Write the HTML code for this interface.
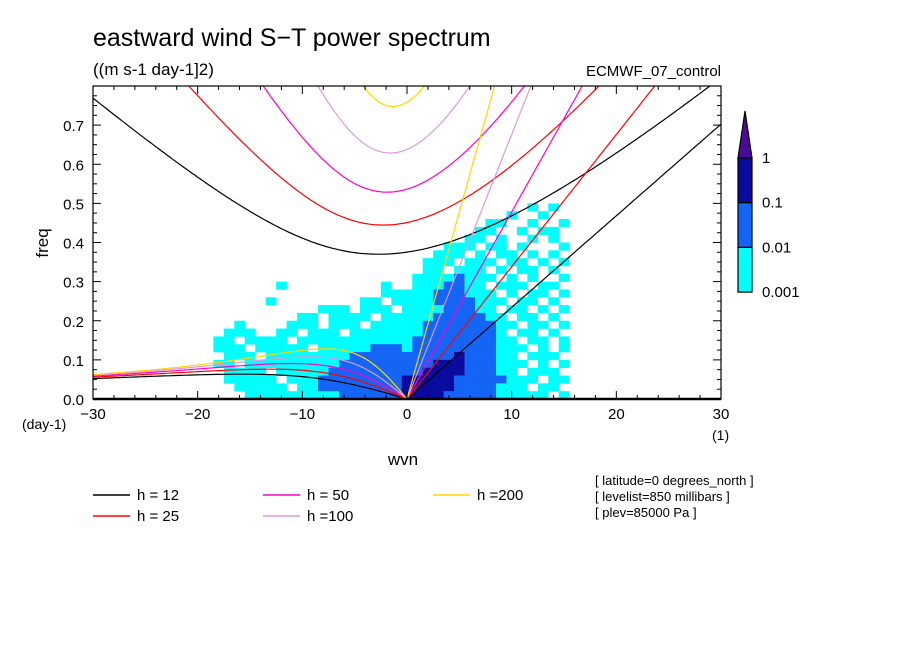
<!DOCTYPE html>
<html><head><meta charset="utf-8"><style>
body{margin:0;background:#fff;width:904px;height:654px;overflow:hidden}
svg{display:block}
text{font-family:"Liberation Sans",sans-serif;fill:#000}
</style></head><body>
<svg id="chart" width="904" height="654" viewBox="0 0 904 654">
<text x="93" y="46" font-size="25">eastward wind S−T power spectrum</text>
<text x="93" y="75" font-size="17">((m s-1 day-1]2)</text>
<text x="721" y="76" font-size="15" text-anchor="end">ECMWF_07_control</text>
<defs><clipPath id="plotclip"><rect x="93" y="86" width="628" height="313"/></clipPath></defs>
<g id="heat" clip-path="url(#plotclip)"></g>
<g id="curves" clip-path="url(#plotclip)"></g>
<g id="axes"></g>
<text x="0" y="0" font-size="17" transform="translate(48,243) rotate(-90)" text-anchor="middle">freq</text>
<text x="403" y="465" font-size="17" text-anchor="middle">wvn</text>
<text x="22" y="429" font-size="14">(day-1)</text>
<text x="712" y="440" font-size="14">(1)</text>
<g id="cbar"></g>
<g id="legend"></g>
<g font-size="13">
<text x="595" y="485">[ latitude=0 degrees_north ]</text>
<text x="595" y="501">[ levelist=850 millibars ]</text>
<text x="595" y="517">[ plev=85000 Pa ]</text>
</g>
</svg>
<script>
const depths = [12, 25, 50, 100, 200];
const depthColors = ["#000000", "#ff0000", "#ff00cc", "#dd99dd", "#ffd700"];
const xTicks = [-30, -20, -10, 0, 10, 20, 30];
const yTicks = [0.0, 0.1, 0.2, 0.3, 0.4, 0.5, 0.6, 0.7];
const cbarLabels = ["1", "0.1", "0.01", "0.001"];
const levelColors = ["none", "#00ffff", "#1464f5", "#0a0a9e"];
const heatWvnStart = -20;
const heatFreqTop = 0.50;
const heatFreqStep = 0.02;
const heatRows = [
"00000000000000000000"+"00000000000010100",
"00000000000000000000"+"00000000001001000",
"00000000000000000000"+"00000000110010010",
"00000000000000000000"+"00000001100101100",
"00000000000000000000"+"00000011010010100",
"00000000000000000000"+"00001110110100010",
"00000000000000000000"+"00011101011010100",
"00000000000000000000"+"00111011101101010",
"00000000000000000000"+"00110111010110100",
"00000000000000000000"+"01111211101010010",
"00000000100000000010"+"01112211011101100",
"00000000000000000011"+"11122211101011010",
"00000001000000001101"+"11122221110110100",
"00000000000011101110"+"11112221101101010",
"00000000001101111011"+"11122222110110100",
"00001000011101110111"+"11222222211011010",
"00011100110111011111"+"11222222210110100",
"00110111101111111111"+"12222222211011010",
"00111011111011111222"+"12222222211101010",
"00011101111111122222"+"22222322211011100",
"00110111111111222222"+"22233322211101010",
"00011110111112222222"+"22333322211011100",
"00011111011122222222"+"33333222221110110",
"00001111101122222222"+"33333222211101100",
"00000111111111222222"+"33332222211111010"
];
const NS="http://www.w3.org/2000/svg";
const X0=93,X1=721,Y0=399,Y1=86;
const sx=k=>X0+(k+30)/60*(X1-X0);
const sy=f=>Y0-f/0.8*(Y0-Y1);
function mk(tag,attrs,parent){const e=document.createElementNS(NS,tag);for(const a in attrs)e.setAttribute(a,attrs[a]);parent.appendChild(e);return e;}
const heat=document.getElementById('heat');
heatRows.forEach((row,r)=>{
  for(let c=0;c<row.length;c++){
    const lv=+row[c]; if(!lv) continue;
    const k=heatWvnStart+c, fTop=heatFreqTop-r*heatFreqStep;
    const x=sx(k-0.5), y=sy(fTop);
    const el=mk('rect',{x:x,y:y,width:sx(k+0.5)-x+0.3,height:sy(fTop-heatFreqStep)-y+0.3,fill:levelColors[lv]},heat);
    
    
  }
});
const g=9.81,beta=2.29e-11,R=6.371e6,toCpd=86400/(2*Math.PI);
function root(A,B,w){for(let i=0;i<60;i++){const f=w*w*w-A*w-B,d=3*w*w-A;w-=f/d;}return w;}
const curves=document.getElementById('curves');
depths.forEach((h,i)=>{
  const c=Math.sqrt(g*h);
  let ig=[],ros=[],kel=[];
  for(let kw=-30;kw<=30.001;kw+=0.25){
    const k=kw/R,A=c*c*k*k+3*beta*c,B=beta*c*c*k;
    ig.push([kw,root(A,B,Math.sqrt(A)*1.5)*toCpd]);
    if(kw<=0) ros.push([kw,root(A,B,B/(-A))*toCpd*(kw<0?1:0)]);
    if(kw>=0) kel.push([kw,c*k*toCpd]);
  }
  [[ig,'ig-curve'],[ros,'rossby-curve'],[kel,'kelvin-line']].forEach(([pts,nm])=>{
    const el=mk('polyline',{points:pts.map(p=>sx(p[0]).toFixed(1)+','+sy(p[1]).toFixed(1)).join(' '),fill:'none',stroke:depthColors[i],'stroke-width':1.2},curves);
    
    
  });
});
const ax=document.getElementById('axes');
mk('rect',{x:X0,y:Y1,width:X1-X0,height:Y0-Y1,fill:'none',stroke:'#000','stroke-width':1.2},ax);
mk('line',{x1:X0,y1:Y0,x2:X1,y2:Y0,stroke:'#000','stroke-width':2.5},ax);
for(let k=-30;k<=30;k+=2){
  const L=(k%10===0)?8:4;
  mk('line',{x1:sx(k),y1:Y0,x2:sx(k),y2:Y0-L,stroke:'#000'},ax);
  mk('line',{x1:sx(k),y1:Y1,x2:sx(k),y2:Y1+L,stroke:'#000'},ax);
}
for(let f=0;f<=0.8;f+=0.025){
  const L=(Math.abs(f*10-Math.round(f*10))<1e-6)?8:4;
  mk('line',{x1:X0,y1:sy(f),x2:X0+L,y2:sy(f),stroke:'#000'},ax);
  mk('line',{x1:X1,y1:sy(f),x2:X1-L,y2:sy(f),stroke:'#000'},ax);
}
xTicks.forEach(t=>{
  const el=mk('text',{x:sx(t),y:419,'font-size':15,'text-anchor':'middle'},ax);
  el.textContent=t<0?'−'+(-t):String(t);
  
  
});
yTicks.forEach(t=>{
  const el=mk('text',{x:84,y:sy(t)+6,'font-size':15,'text-anchor':'end'},ax);
  el.textContent=t.toFixed(1);
  
  
});
const cb=document.getElementById('cbar');
mk('polygon',{points:'745,111 752,158 738,158',fill:'#4b0a9b',stroke:'#000','stroke-width':1.2},cb);
const cbCols=[levelColors[3],levelColors[2],levelColors[1]];
cbCols.forEach((col,i)=>{mk('rect',{x:738,y:158+i*44.7,width:14,height:44.7,fill:col,stroke:'#000','stroke-width':1.2},cb);});
cbarLabels.forEach((lab,i)=>{
  const el=mk('text',{x:762,y:163+i*44.7,'font-size':15},cb);
  el.textContent=lab;
  
  
});
const lg=document.getElementById('legend');
const lpos=[[93,495],[93,516],[263,495],[263,516],[433,495]];
depths.forEach((h,i)=>{
  const [x,y]=lpos[i];
  const ln=mk('line',{x1:x,y1:y,x2:x+37,y2:y,stroke:depthColors[i],'stroke-width':1.5},lg);
  
  
  const t=mk('text',{x:x+44,y:y+5,'font-size':15},lg);
  t.textContent=h<100?'h = '+h:'h ='+h;
  
  
});
</script>
</body></html>
